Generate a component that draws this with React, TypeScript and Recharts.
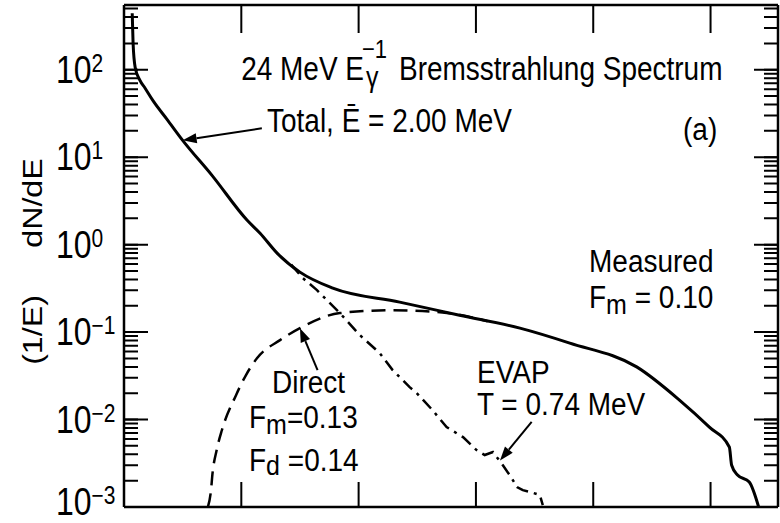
import { LineChart, Line, XAxis, YAxis, ReferenceLine, CartesianGrid } from 'recharts'

// neutron energy (MeV) against (1/E) dN/dE
const totalE = [0.14, 0.155, 0.19, 0.27, 0.36, 0.5, 0.73, 1.0, 1.5, 2.1, 2.32, 2.61, 3.0, 3.56, 4.7, 5.72, 6.75, 7.6, 8.74, 9.47, 9.98, 10.32, 10.36, 10.46, 10.66, 10.82]
const totalV = [443, 201, 107, 76, 61.5, 43.7, 27.3, 15.6, 6.2, 1.9, 1.35, 0.8, 0.485, 0.318, 0.22, 0.156, 0.111, 0.0748, 0.04, 0.0167, 0.0082, 0.00485, 0.003, 0.00232, 0.00193, 0.001]

const directE = [1.43, 1.48, 1.51, 1.58, 1.67, 1.91, 2.08, 2.27, 2.66, 3.0, 3.68, 4.58, 5.43, 6.2]
const directV = [0.001, 0.00148, 0.00245, 0.00448, 0.00759, 0.019, 0.0323, 0.0505, 0.081, 0.111, 0.165, 0.178, 0.168, 0.133]

const evapE = [2.85, 3.05, 3.29, 3.68, 4.02, 4.36, 4.58, 4.87, 4.99, 5.26, 5.5, 5.78, 6.01, 6.15, 6.29, 6.46, 6.61, 6.7, 6.8, 6.93, 7.09, 7.14]
const evapV = [0.59, 0.414, 0.302, 0.165, 0.0925, 0.0575, 0.0368, 0.0235, 0.0201, 0.0128, 0.0082, 0.0063, 0.00448, 0.00393, 0.00425, 0.003, 0.00214, 0.00169, 0.00156, 0.00148, 0.00137, 0.00105]

const xTicks = [1, 2, 3, 4, 5, 6, 7, 8, 9, 10]
const xMajor = [2, 4, 6, 8, 10]
const yDecades = [0.001, 0.01, 0.1, 1, 10, 100]
const yMinorSteps = [2, 3, 4, 5, 6, 7, 8, 9]

// arrows: [tail, head] in data units
const totalArrow = [{ x: 2.35, y: 21.4 }, { x: 1.0, y: 15.6 }]
const directArrow = [{ x: 3.3, y: 0.0368 }, { x: 3.0, y: 0.111 }]
const evapArrow = [{ x: 6.95, y: 0.0094 }, { x: 6.41, y: 0.0034 }]

const X_MAX = 11.15
const Y_MIN = 0.001
const Y_MAX = 550

const W = 780
const H = 523
const PLOT_LEFT = 124
const PLOT_RIGHT = 778
const PLOT_TOP = 5
const PLOT_BOTTOM = 507
const PLOT_W = PLOT_RIGHT - PLOT_LEFT
const PLOT_H = PLOT_BOTTOM - PLOT_TOP
const FONT = '"Liberation Sans", Arial, Helvetica, sans-serif'
const AXIS_LINE = { stroke: '#000', strokeWidth: 2.5 }

const toRows = (es: number[], vs: number[]) => es.map((e, i) => ({ e, v: vs[i] }))
const totalData = toRows(totalE, totalV)
const directData = toRows(directE, directV)
const evapData = toRows(evapE, evapV)

const yTicks: number[] = []
yDecades.forEach((d) => {
  yTicks.push(d)
  yMinorSteps.forEach((m) => {
    if (d * m < Y_MAX) yTicks.push(d * m)
  })
})

const isDecade = (v: number) => Math.abs(Math.log10(v) - Math.round(Math.log10(v))) < 1e-6

// a full-length line dashed so only its two ends show: inward ticks on opposite edges
const edgeDash = (a: number, b: number, span: number) => `${a} ${span - a - b} ${b} ${span}`

// decade label, 10 with a raised exponent; minor ticks get no label
const DecadeLabel = (props: any) => {
  const { y, payload } = props
  if (!isDecade(payload.value)) return <g />
  const exp = Math.round(Math.log10(payload.value))
  const expText = exp < 0 ? `\u2212${-exp}` : `${exp}`
  const base = Math.min(Number(y) + 13, 515)
  return (
    <text transform={`translate(56 ${base}) scale(1 1.2)`} fontFamily={FONT} fontSize={32} fill="#000">
      10
      <tspan dy={-9} fontSize={21}>{expText}</tspan>
    </text>
  )
}

const ArrowShape = (props: any) => {
  const { x1, y1, x2, y2 } = props
  const ang = Math.atan2(y2 - y1, x2 - x1)
  const len = 14
  const half = 5
  const bx = x2 - len * Math.cos(ang)
  const by = y2 - len * Math.sin(ang)
  const px = -Math.sin(ang) * half
  const py = Math.cos(ang) * half
  return (
    <g>
      <line x1={x1} y1={y1} x2={bx} y2={by} stroke="#000" strokeWidth={2} />
      <polygon points={`${x2},${y2} ${bx + px},${by + py} ${bx - px},${by - py}`} fill="#000" />
    </g>
  )
}

// text with an optional vertical stretch about its baseline
const T = ({ x, y, sy = 1, size = 28, anchor = 'start', children }: any) => (
  <text
    transform={`translate(${x} ${y}) scale(1 ${sy})`}
    fontFamily={FONT}
    fontSize={size}
    fill="#000"
    textAnchor={anchor}
  >
    {children}
  </text>
)

const xCommon = {
  dataKey: 'e',
  type: 'number' as const,
  domain: [0, X_MAX],
  allowDataOverflow: true,
  height: 1,
  tick: false,
  tickLine: false,
  axisLine: AXIS_LINE,
}

const yCommon = {
  type: 'number' as const,
  scale: 'log' as const,
  domain: [Y_MIN, Y_MAX],
  allowDataOverflow: true,
  width: 1,
  tickLine: false,
  axisLine: AXIS_LINE,
}

const majorY = { stroke: '#000', strokeWidth: 2, strokeDasharray: edgeDash(24, 24, PLOT_W) }
const majorX = { stroke: '#000', strokeWidth: 2, strokeDasharray: edgeDash(25, 28, PLOT_H) }

export default function App() {
  return (
    <div style={{ position: 'absolute', left: 0, top: 0, width: W, height: H, background: '#fff' }}>
      <LineChart
        width={W}
        height={H}
        margin={{ top: PLOT_TOP - 1, right: W - PLOT_RIGHT - 1, bottom: H - PLOT_BOTTOM - 1, left: PLOT_LEFT - 1 }}
      >
        <XAxis {...xCommon} ticks={xTicks} interval={0} />
        <XAxis {...xCommon} xAxisId="top" orientation="top" />
        <YAxis {...yCommon} ticks={yTicks} interval={0} tick={<DecadeLabel />} />
        <YAxis {...yCommon} yAxisId="right" orientation="right" tick={false} />

        {/* short inward ticks on all four edges, longer ones at decades and even MeV */}
        <CartesianGrid vertical={false} stroke="#000" strokeWidth={2} strokeDasharray={edgeDash(14, 14, PLOT_W)} />
        <CartesianGrid horizontal={false} stroke="#000" strokeWidth={2} strokeDasharray={edgeDash(17, 15, PLOT_H)} />
        <ReferenceLine y={yDecades[1]} {...majorY} />
        <ReferenceLine y={yDecades[2]} {...majorY} />
        <ReferenceLine y={yDecades[3]} {...majorY} />
        <ReferenceLine y={yDecades[4]} {...majorY} />
        <ReferenceLine y={yDecades[5]} {...majorY} />
        <ReferenceLine x={xMajor[0]} {...majorX} />
        <ReferenceLine x={xMajor[1]} {...majorX} />
        <ReferenceLine x={xMajor[2]} {...majorX} />
        <ReferenceLine x={xMajor[3]} {...majorX} />
        <ReferenceLine x={xMajor[4]} {...majorX} />

        <Line data={totalData} dataKey="v" type="monotone" stroke="#000" strokeWidth={3} dot={false} isAnimationActive={false} />
        <Line data={directData} dataKey="v" type="monotone" stroke="#000" strokeWidth={2.5} strokeDasharray="14 8" dot={false} isAnimationActive={false} />
        <Line data={evapData} dataKey="v" type="linear" stroke="#000" strokeWidth={2.5} strokeDasharray="12 6 3 6" dot={false} isAnimationActive={false} />
        <ReferenceLine segment={totalArrow} shape={ArrowShape} ifOverflow="visible" />
        <ReferenceLine segment={directArrow} shape={ArrowShape} ifOverflow="visible" />
        <ReferenceLine segment={evapArrow} shape={ArrowShape} ifOverflow="visible" />
      </LineChart>
      <svg width={W} height={H} style={{ position: 'absolute', left: 0, top: 0, pointerEvents: 'none' }}>
        <text transform="translate(42 203) rotate(-90) scale(1.15 1)" fontFamily={FONT} fontSize={28} textAnchor="middle">dN/dE</text>
        <text transform="translate(42 330) rotate(-90) scale(1.15 1)" fontFamily={FONT} fontSize={28} textAnchor="middle">(1/E)</text>

        <T x={364} y={80} sy={1.2} anchor="end">24 MeV E</T>
        <T x={362} y={58} sy={1.2} size={22}>{'\u2212'}1</T>
        <T x={366} y={87} sy={1.2} size={25}>γ</T>
        <T x={399} y={80} sy={1.2}>Bremsstrahlung Spectrum</T>

        <T x={267} y={132} sy={1.2}>Total, Ē = 2.00 MeV</T>
        <T x={683} y={140} sy={1.1}>(a)</T>

        <T x={589} y={272} sy={1.1}>Measured</T>
        <T x={589} y={308} sy={1.1}>
          F<tspan dy={5} fontSize={25}>m</tspan><tspan dy={-5}> = 0.10</tspan>
        </T>

        <T x={272} y={393} sy={1.1}>Direct</T>
        <T x={249} y={428} sy={1.1}>
          F<tspan dy={5} fontSize={25}>m</tspan><tspan dy={-5}>=0.13</tspan>
        </T>
        <T x={249} y={471} sy={1.1}>
          F<tspan dy={4} fontSize={25}>d</tspan><tspan dy={-4}> =0.14</tspan>
        </T>

        <T x={477} y={383} sy={1.1}>EVAP</T>
        <T x={477} y={415} sy={1.1}>T = 0.74 MeV</T>
      </svg>
    </div>
  )
}
